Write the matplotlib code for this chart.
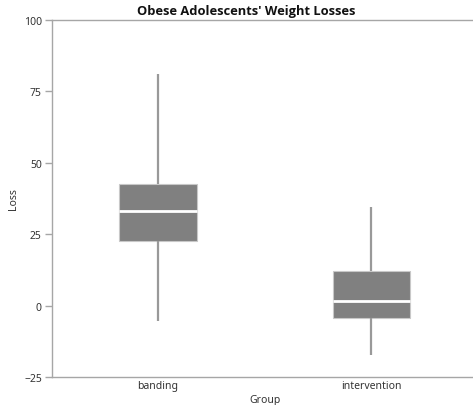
import matplotlib
matplotlib.use("Agg")
import matplotlib.pyplot as plt

groups = ["banding", "intervention"]
whisker_low = [-5.5, -17.2]
q1 = [22.5, -4.4]
median = [33.2, 1.6]
q3 = [42.5, 12.2]
whisker_high = [81.1, 34.4]
yticks = [-25, 0, 25, 50, 75, 100]

plt.rcParams["font.family"] = ["Noto Sans", "DejaVu Sans"]

W, H = 473, 406
fig = plt.figure(figsize=(W / 100, H / 100), dpi=100)
ax = fig.add_axes([51.5 / W, 1 - 378 / H, (478 - 51.5) / W, (378 - 21) / H])

stats = []
for i, g in enumerate(groups):
    stats.append(dict(label=g, whislo=whisker_low[i], q1=q1[i], med=median[i],
                      q3=q3[i], whishi=whisker_high[i], fliers=[]))

ax.bxp(stats, positions=[0, 1], widths=0.364, patch_artist=True, showcaps=False,
       boxprops=dict(facecolor="#808080", edgecolor="#c8c8c8", linewidth=0.8),
       medianprops=dict(color="white", linewidth=2),
       whiskerprops=dict(color="#999999", linewidth=1.6, solid_capstyle="butt"))

ax.set_xlim(-0.5, 1.5)
ax.set_ylim(-25, 100)
ax.set_yticks(yticks)
ax.set_xticks([0, 1])
ax.set_xticklabels(groups)

for s in ["left", "bottom", "top"]:
    ax.spines[s].set_color("#a6a6a6")
    ax.spines[s].set_linewidth(1)
ax.spines["right"].set_visible(False)

ax.tick_params(axis="y", length=5, width=1, color="#a6a6a6", labelsize=7.5,
               labelcolor="#333333", pad=2)
ax.tick_params(axis="x", length=0, labelsize=7.5, labelcolor="#333333", pad=2)

ax.set_ylabel("Loss", fontsize=7.5, color="#333333", labelpad=3)
ax.set_xlabel("Group", fontsize=7.5, color="#333333", labelpad=2)
fig.text(246 / W, 1 - 12 / H, "Obese Adolescents' Weight Losses", ha="center", va="center",
         fontsize=9.3, fontweight="bold", color="#111111", family=["Open Sans", "DejaVu Sans"])

fig.savefig("out.png", dpi=100)
